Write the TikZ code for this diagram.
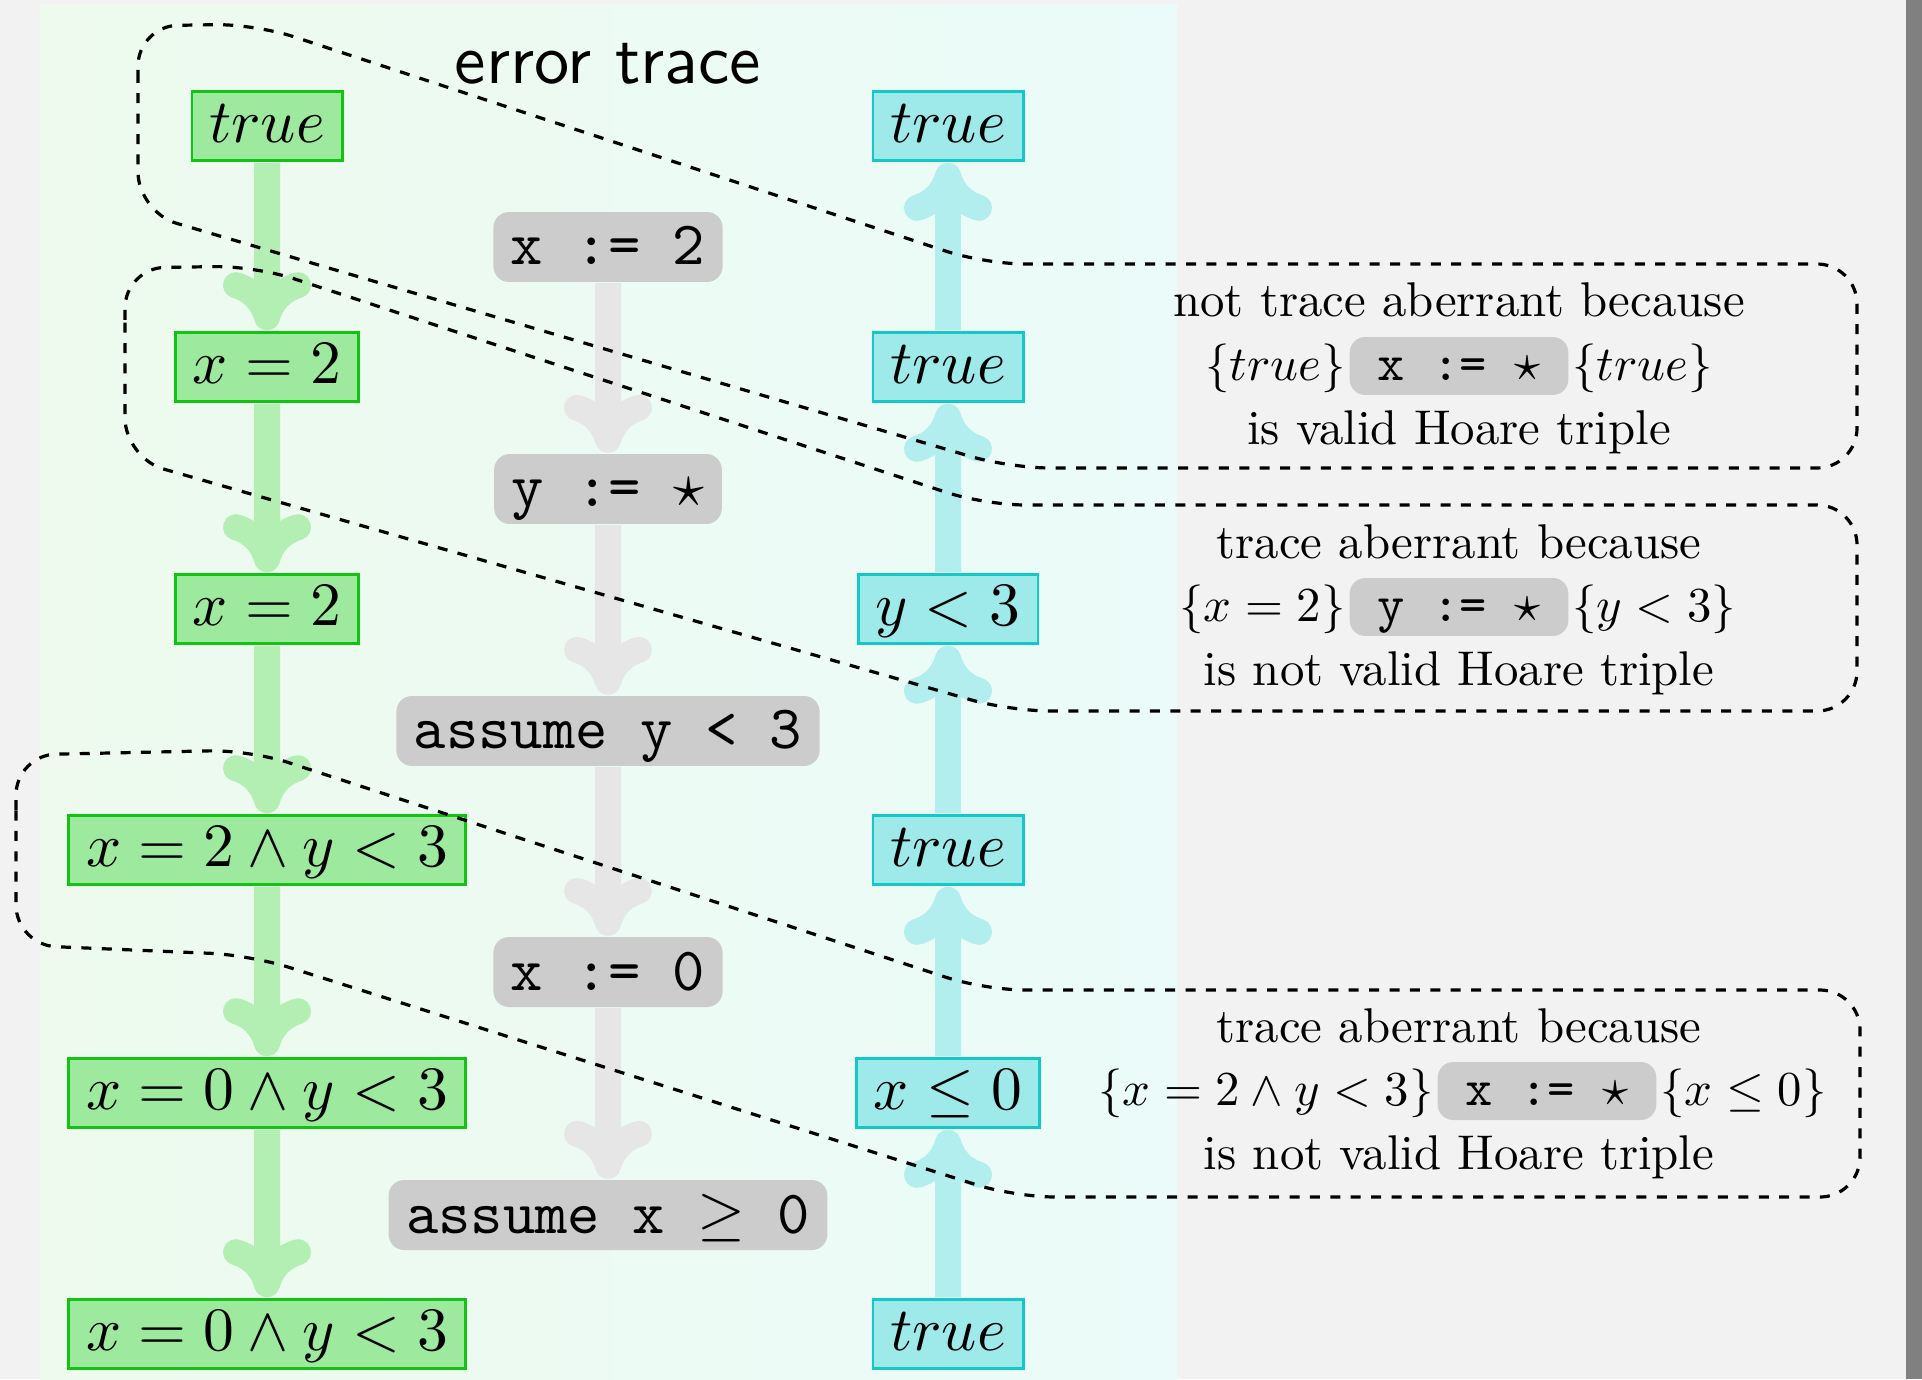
\documentclass[tikz,border=0pt]{standalone}
\usetikzlibrary{arrows.meta}

\definecolor{pagebg}{HTML}{F2F2F2}
\definecolor{edgestrip}{HTML}{808080}
\definecolor{panelL}{HTML}{EDFAED}
\definecolor{panelR}{HTML}{EBFBF9}
\definecolor{gfill}{HTML}{9DE99D}
\definecolor{gline}{HTML}{14C214}
\definecolor{gflow}{HTML}{B3EFB3}
\definecolor{cfill}{HTML}{9EEAEA}
\definecolor{cline}{HTML}{14C8C8}
\definecolor{cflow}{HTML}{B2EEEE}
\definecolor{sflow}{HTML}{E6E6E6}
\definecolor{sfill}{HTML}{CCCCCC}

\tikzset{
  basefont/.style={font=\fontsize{10}{12}\selectfont},
  statebox/.style={basefont, scale=1.54, line width=0.7pt,
    text height=7.56pt, text depth=2.1pt, inner xsep=2.8pt, inner ysep=0.8pt},
  gbox/.style={statebox, draw=gline, fill=gfill},
  cbox/.style={statebox, draw=cline, fill=cfill},
  stmt/.style={font=\fontsize{10}{12}\selectfont\ttfamily, scale=1.54,
    fill=sfill, rounded corners=3.9pt, text height=7.8pt, text depth=1.96pt,
    inner xsep=2.85pt, inner ysep=0.8pt},
  hstmt/.style={font=\fontsize{10}{12}\selectfont\ttfamily, scale=1.3,
    fill=sfill, rounded corners=3.9pt, text height=7.65pt, text depth=1.9pt,
    inner xsep=5.4pt, inner ysep=0.8pt},
  hoare/.style={basefont, scale=1.22, inner sep=0.4pt},
  flow/.style={line width=6.5pt, -{To[round,length=14.5pt,width=22pt]}},
  gflowarrow/.style={flow, draw=gflow},
  cflowarrow/.style={flow, draw=cflow},
  sflowarrow/.style={flow, draw=sflow},
  hull/.style={draw=black, line width=0.8pt, dash pattern=on 2.5pt off 2.6pt,
    rounded corners=10pt},
}

\begin{document}
\begin{tikzpicture}[x=0.25pt,y=-0.25pt]
\useasboundingbox (0,0) rectangle (1922,1379);
% page and panel
\fill[pagebg] (0,0) rectangle (1922,1379);
\fill[edgestrip] (1906,0) rectangle (1922,1379);
\shade[left color=panelL, right color=panelR] (40,5) rectangle (1177,1379);

\node[font=\fontsize{10}{12}\selectfont\sffamily, scale=1.76] (title) at (608,64) {error trace};

% forward column
\node[gbox] (g1) at (267,126)  {$true$};
\node[gbox] (g2) at (267,367)  {$x=2$};
\node[gbox] (g3) at (267,609)  {$x=2$};
\node[gbox] (g4) at (267,850)  {$x=2\wedge y<3$};
\node[gbox] (g5) at (267,1093) {$x=0\wedge y<3$};
\node[gbox] (g6) at (267,1334) {$x=0\wedge y<3$};

% statements
\node[stmt] (s1) at (608,247)  {x := 2};
\node[stmt] (s2) at (608,489)  {y := $\star$};
\node[stmt] (s3) at (608,731)  {assume y < 3};
\node[stmt] (s4) at (608,972)  {x := 0};
\node[stmt] (s5) at (608,1215) {assume x $\geq$ 0};

% backward column
\node[cbox] (c1) at (948,126)  {$true$};
\node[cbox] (c2) at (948,367)  {$true$};
\node[cbox] (c3) at (948,609)  {$y<3$};
\node[cbox] (c4) at (948,850)  {$true$};
\node[cbox] (c5) at (948,1093) {$x\leq 0$};
\node[cbox] (c6) at (948,1334) {$true$};

% flows
\draw[gflowarrow] (g1) -- (g2);
\draw[gflowarrow] (g2) -- (g3);
\draw[gflowarrow] (g3) -- (g4);
\draw[gflowarrow] (g4) -- (g5);
\draw[gflowarrow] (g5) -- (g6);
\draw[sflowarrow] (s1) -- (s2);
\draw[sflowarrow] (s2) -- (s3);
\draw[sflowarrow] (s3) -- (s4);
\draw[sflowarrow] (s4) -- (s5);
\draw[cflowarrow] (c2) -- (c1);
\draw[cflowarrow] (c3) -- (c2);
\draw[cflowarrow] (c4) -- (c3);
\draw[cflowarrow] (c5) -- (c4);
\draw[cflowarrow] (c6) -- (c5);

% Hoare triple explanations
\node[hoare] (h1a) at (1459,300) {not trace aberrant because};
\node[hstmt] (h1m) at (1459,366) {x := $\star$};
\node[hoare, anchor=base east] (h1l) at (h1m.base west) {$\{true\}$};
\node[hoare, anchor=base west] (h1r) at (h1m.base east) {$\{true\}$};
\node[hoare] (h1c) at (1459,432) {is valid Hoare triple};

\node[hoare] (h2a) at (1459,542) {trace aberrant because};
\node[hstmt] (h2m) at (1459,607) {y := $\star$};
\node[hoare, anchor=base east] (h2l) at (h2m.base west) {$\{x=2\}$};
\node[hoare, anchor=base west] (h2r) at (h2m.base east) {$\{y<3\}$};
\node[hoare] (h2c) at (1459,673) {is not valid Hoare triple};

\node[hoare] (h3a) at (1459,1026) {trace aberrant because};
\node[hstmt] (h3m) at (1547,1091) {x := $\star$};
\node[hoare, anchor=base east] (h3l) at (h3m.base west) {$\{x=2\wedge y<3\}$};
\node[hoare, anchor=base west] (h3r) at (h3m.base east) {$\{x\leq 0\}$};
\node[hoare] (h3c) at (1459,1157) {is not valid Hoare triple};

% dashed hulls linking a forward state to its explanation
\draw[hull] (138,120) -- (138,26) -- (255,24) -- (985,264) -- (1857,264)
  -- (1857,468) -- (1010,468) -- (138,212) -- cycle;
\draw[hull] (125,360) -- (125,268) -- (255,266) -- (985,505) -- (1857,505)
  -- (1857,711) -- (1010,711) -- (125,458) -- cycle;
\draw[hull] (16,850) -- (16,755) -- (250,750) -- (985,990) -- (1860,990)
  -- (1860,1197) -- (1015,1197) -- (250,955) -- (16,945) -- cycle;
\end{tikzpicture}
\end{document}
